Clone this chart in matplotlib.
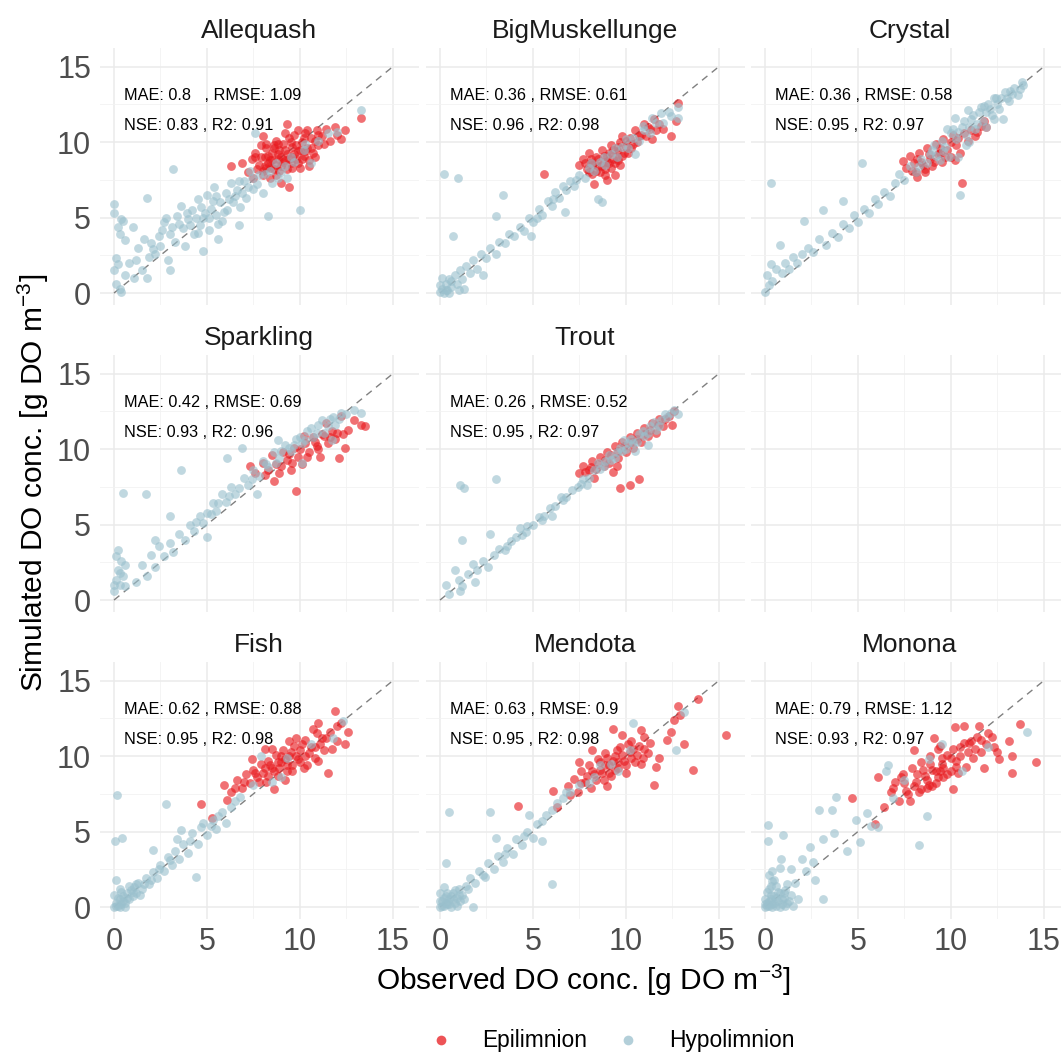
import matplotlib
matplotlib.use("Agg")
import matplotlib.pyplot as plt
from matplotlib.lines import Line2D

plt.rcParams['font.family'] = ['Liberation Sans', 'DejaVu Sans']
plt.rcParams['mathtext.fontset'] = 'custom'
plt.rcParams['mathtext.rm'] = 'Liberation Sans'
plt.rcParams['mathtext.it'] = 'Liberation Sans:italic'

# observed / simulated DO pairs, per lake and layer
ALLEQUASH_EPI = [(6.3, 8.4), (6.9, 8.6), (7.2, 8.0), (7.4, 8.9), (7.6, 9.3), (7.8, 8.5), (7.9, 9.8), (8.0, 8.1),
                 (8.1, 9.0), (8.2, 9.6), (8.3, 8.6), (8.4, 7.6), (8.5, 9.3), (8.6, 8.2), (8.7, 10.1), (8.8, 8.9),
                 (8.9, 9.5), (9.0, 8.4), (9.0, 7.3), (9.1, 9.9), (9.2, 8.8), (9.3, 11.2), (9.3, 9.2), (9.4, 7.0),
                 (9.5, 8.6), (9.6, 9.7), (9.7, 10.5), (9.8, 8.9), (9.9, 9.4), (10.0, 8.3), (10.1, 10.0), (10.2, 9.1),
                 (10.3, 10.6), (10.4, 9.6), (10.5, 8.8), (10.6, 10.3), (10.7, 9.3), (10.9, 10.8), (11.0, 9.8),
                 (11.2, 10.4), (11.6, 10.1), (11.9, 11.0), (12.2, 10.2), (12.4, 10.8), (13.3, 11.6), (8.6, 9.8),
                 (9.4, 10.3), (7.5, 7.6), (8.0, 10.4), (10.8, 9.0), (8.2, 8.3), (8.8, 9.2), (9.6, 9.0), (8.4, 8.8),
                 (7.7, 8.2), (7.9, 9.0), (8.1, 8.4), (8.2, 9.9), (8.3, 9.1), (8.4, 8.3), (8.5, 8.8), (8.6, 9.6),
                 (8.7, 8.5), (8.8, 9.9), (8.9, 8.1), (9.0, 9.0), (9.1, 8.7), (9.2, 9.5), (9.3, 8.2), (9.4, 8.9),
                 (9.5, 10.0), (9.6, 8.3), (9.7, 9.2), (9.8, 9.8), (9.9, 8.6), (10.0, 9.5), (10.1, 8.9), (10.2, 10.3),
                 (10.3, 9.4), (10.4, 10.8), (10.6, 9.6), (10.8, 10.1), (11.0, 10.5), (11.3, 9.9), (7.6, 9.0),
                 (8.0, 7.8), (8.7, 7.8), (9.2, 10.6), (9.9, 10.8), (10.5, 8.4), (11.4, 10.9), (12.0, 10.5)]
ALLEQUASH_HYPO = [(0.0, 5.9), (0.0, 5.3), (0.4, 4.9), (0.1, 2.3), (0.2, 1.9), (0.6, 1.2), (0.1, 0.6), (0.4, 0.1),
                  (0.3, 3.9), (0.5, 4.8), (1.0, 4.4), (1.3, 3.0), (1.5, 1.5), (1.8, 6.3), (1.8, 1.0), (2.2, 2.6),
                  (2.4, 3.8), (2.6, 4.2), (2.8, 5.0), (2.9, 2.2), (3.2, 8.2), (3.3, 3.4), (3.5, 4.6), (3.6, 5.8),
                  (3.8, 3.1), (4.0, 4.9), (4.2, 5.5), (4.3, 3.9), (4.5, 6.2), (4.6, 4.5), (4.8, 5.0), (5.0, 6.5),
                  (5.1, 4.2), (5.2, 5.6), (5.4, 7.0), (5.5, 5.2), (5.7, 6.0), (5.8, 4.8), (6.0, 6.6), (6.1, 5.5),
                  (6.3, 7.3), (6.4, 6.0), (6.6, 6.8), (6.8, 5.7), (7.0, 7.4), (7.1, 6.3), (7.3, 8.1), (7.5, 6.9),
                  (7.6, 10.6), (7.8, 7.8), (8.0, 6.6), (8.3, 5.1), (8.5, 7.3), (8.7, 8.6), (9.0, 8.0), (9.3, 7.6),
                  (9.5, 9.0), (10.0, 5.5), (10.2, 9.5), (10.6, 8.6), (11.0, 10.1), (11.5, 10.6), (13.3, 12.1),
                  (12.0, 10.7), (2.0, 3.3), (1.2, 2.2), (3.0, 1.5), (4.8, 2.8), (5.6, 3.6), (6.7, 4.5),
                  (2.1, 2.9), (2.5, 3.1), (2.7, 4.7), (3.0, 3.9), (3.1, 4.4), (3.4, 5.1), (3.7, 4.3), (3.9, 5.3),
                  (4.1, 4.5), (4.4, 5.0), (4.5, 4.0), (4.7, 5.7), (4.9, 5.3), (5.1, 5.0), (5.3, 6.1), (5.5, 6.4),
                  (5.6, 4.6), (5.9, 5.4), (6.2, 6.2), (6.5, 6.4), (6.7, 7.4), (6.9, 6.6), (7.2, 7.0), (7.4, 7.6),
                  (7.7, 7.2), (8.1, 7.9), (8.4, 8.1), (8.8, 7.6), (9.2, 8.4), (9.7, 8.7), (10.3, 9.9), (0.2, 4.4),
                  (0.6, 3.5), (0.8, 2.0), (1.1, 1.0), (1.6, 3.6), (1.9, 2.4), (0.0, 1.5), (0.3, 0.3)]

BIGMUSK_EPI = [(5.6, 7.9), (7.5, 8.5), (7.7, 8.9), (7.9, 8.2), (8.0, 9.3), (8.1, 8.6), (8.2, 7.9), (8.3, 7.2),
               (8.4, 9.0), (8.5, 8.4), (8.6, 8.0), (8.7, 9.5), (8.8, 8.7), (8.9, 8.2), (9.0, 9.1), (9.1, 8.6),
               (9.2, 9.8), (9.3, 8.9), (9.4, 7.8), (9.5, 9.4), (9.6, 8.8), (9.7, 10.0), (9.9, 9.3), (10.0, 9.7),
               (10.2, 10.3), (10.3, 9.6), (10.5, 10.8), (10.6, 10.0), (10.8, 10.5), (11.0, 11.2), (11.1, 10.4),
               (11.3, 10.9), (11.5, 11.5), (11.6, 10.8), (11.8, 11.2), (12.0, 10.9), (12.4, 10.4), (12.7, 11.4),
               (12.8, 12.6), (9.0, 7.5), (8.1, 8.9), (9.8, 10.4), (8.0, 8.0), (8.2, 8.5), (8.4, 8.1), (8.5, 8.9),
               (8.7, 8.4), (8.8, 9.1), (8.9, 7.8), (9.0, 8.7), (9.1, 9.3), (9.2, 8.3), (9.3, 9.5), (9.4, 8.6),
               (9.5, 9.0), (9.6, 9.7), (9.7, 8.5), (9.8, 9.1), (10.0, 10.1), (10.1, 9.3), (10.4, 9.9),
               (10.7, 10.4), (11.2, 11.0), (11.4, 10.2), (7.8, 8.6)]
BIGMUSK_HYPO = [(0.0, 0.1), (0.1, 0.3), (0.2, 0.0), (0.3, 0.6), (0.4, 0.2), (0.5, 0.9), (0.6, 0.4), (0.8, 1.2),
                (0.9, 0.6), (1.1, 1.5), (1.2, 0.9), (1.4, 1.8), (1.6, 1.3), (1.8, 2.2), (2.0, 1.6), (2.2, 2.6),
                (2.5, 2.3), (2.7, 3.0), (3.0, 2.6), (3.2, 3.4), (3.5, 3.3), (3.7, 3.9), (4.0, 3.8), (4.3, 4.4),
                (4.5, 4.1), (4.8, 5.0), (5.0, 4.7), (5.3, 5.6), (5.5, 5.2), (5.8, 6.1), (6.0, 5.8), (6.2, 6.7),
                (6.4, 6.3), (6.6, 7.1), (6.8, 6.8), (7.0, 7.4), (7.2, 7.1), (7.5, 7.8), (7.8, 7.6), (8.0, 8.3),
                (8.3, 8.1), (8.6, 8.7), (8.9, 8.5), (9.2, 9.2), (9.5, 9.0), (9.8, 9.7), (10.1, 9.6), (10.4, 10.3),
                (10.7, 10.1), (11.0, 10.8), (11.3, 10.6), (11.6, 11.3), (12.0, 11.3), (12.3, 12.0), (12.8, 11.6),
                (12.8, 12.3), (0.2, 7.9), (0.95, 7.6), (3.4, 6.5), (0.7, 3.75), (3.0, 5.1), (8.5, 6.2), (8.7, 6.0),
                (2.3, 1.2), (1.3, 0.3), (4.9, 3.8), (6.7, 5.4), (0.1, 1.0), (0.5, 0.0), (10.5, 9.2),
                (8.1, 8.6), (8.8, 9.0), (9.4, 9.6), (10.0, 10.2), (10.9, 11.1), (11.4, 11.6), (11.9, 11.9),
                (12.4, 11.7), (7.3, 7.5), (6.1, 6.2), (5.2, 5.0), (0.3, 0.2), (0.6, 0.8), (0.0, 0.5), (1.0, 0.2)]

CRYSTAL_EPI = [(7.4, 8.75), (7.6, 8.3), (7.8, 9.1), (8.0, 8.6), (8.1, 8.0), (8.3, 9.3), (8.4, 8.7), (8.6, 8.2),
               (8.7, 9.6), (8.9, 8.9), (9.0, 8.4), (9.2, 9.9), (9.3, 9.2), (9.5, 8.7), (9.6, 10.2), (9.8, 9.5),
               (10.0, 9.0), (10.1, 10.5), (10.3, 9.8), (10.5, 9.3), (10.6, 7.3), (10.7, 10.6), (10.9, 10.1),
               (11.1, 10.8), (11.3, 10.4), (11.6, 11.1), (11.9, 11.0), (8.2, 7.7), (9.4, 9.6), (10.2, 8.8),
               (7.9, 8.1), (8.2, 8.9), (8.5, 8.5), (8.8, 9.2), (9.1, 8.7), (9.4, 9.3), (9.7, 9.0), (10.0, 10.0),
               (10.4, 10.3), (11.4, 10.7), (11.8, 11.4), (8.6, 8.0)]
CRYSTAL_HYPO = [(0.0, 0.1), (0.2, 0.5), (0.1, 1.2), (0.4, 0.8), (0.6, 1.6), (0.3, 1.9), (0.8, 3.2), (0.9, 1.3),
                (1.1, 2.0), (1.3, 1.6), (1.5, 2.4), (1.7, 2.0), (2.1, 4.8), (2.0, 2.6), (2.3, 3.0), (2.6, 2.7),
                (2.9, 3.6), (3.1, 5.5), (3.3, 3.2), (3.6, 4.0), (3.9, 3.7), (4.2, 6.1), (4.2, 4.6), (4.5, 4.3),
                (4.8, 5.2), (5.0, 4.7), (5.2, 8.6), (5.3, 5.6), (5.6, 5.3), (5.9, 6.2), (6.1, 5.9), (6.4, 6.7),
                (6.7, 6.4), (7.0, 7.3), (7.2, 7.9), (7.5, 7.5), (7.8, 8.4), (8.1, 8.0), (8.4, 8.9), (8.7, 8.6),
                (9.0, 9.5), (9.2, 9.1), (9.5, 10.1), (9.7, 9.7), (10.0, 10.6), (10.2, 11.6), (10.3, 10.2),
                (10.5, 6.5), (10.6, 11.0), (10.8, 10.5), (11.1, 11.5), (11.3, 10.9), (11.5, 12.0), (11.7, 11.4),
                (12.0, 12.5), (12.2, 11.8), (12.4, 12.9), (12.6, 12.2), (12.9, 13.3), (13.1, 12.7), (13.4, 13.6),
                (13.6, 13.1), (13.9, 13.8), (11.9, 11.0), (9.8, 10.9), (10.9, 12.1), (12.8, 11.5), (0.3, 7.3),
                (10.4, 9.0), (9.4, 8.8), (11.0, 10.0), (12.3, 12.9), (13.2, 13.4), (11.8, 12.4),
                (9.1, 9.8), (9.6, 9.4), (10.1, 10.9), (10.4, 10.7), (10.7, 11.4), (11.0, 11.0), (11.2, 11.8),
                (11.4, 11.2), (11.6, 12.3), (11.9, 12.0), (12.1, 12.2), (12.5, 12.5), (12.7, 12.9), (13.0, 12.9),
                (13.3, 13.2), (13.7, 13.5), (13.8, 14.0), (12.3, 11.5), (10.8, 9.8), (9.9, 9.0), (8.9, 9.2),
                (8.3, 8.4)]

SPARKLING_EPI = [(7.3, 8.9), (7.6, 8.4), (8.0, 9.1), (8.3, 8.6), (8.5, 9.6), (8.7, 9.0), (8.9, 8.4), (9.1, 9.8),
                 (9.3, 9.3), (9.5, 8.6), (9.7, 10.1), (9.8, 7.2), (9.9, 9.5), (10.1, 9.0), (10.3, 10.4), (10.5, 9.8),
                 (10.7, 10.8), (10.9, 10.2), (11.1, 9.5), (11.3, 10.9), (11.5, 10.4), (11.7, 11.2), (11.9, 10.7),
                 (12.1, 9.4), (12.2, 12.2), (12.4, 10.1), (12.6, 11.3), (12.9, 11.9), (13.3, 11.6), (13.5, 11.5),
                 (10.2, 10.9), (8.6, 7.9), (11.4, 11.7), (9.0, 8.9), (9.4, 9.7), (9.6, 9.1), (10.0, 10.0),
                 (10.4, 9.5), (10.8, 10.5), (11.0, 10.0), (11.2, 11.0), (11.6, 10.8), (12.0, 11.1), (12.3, 11.0),
                 (8.1, 8.3)]
SPARKLING_HYPO = [(0.0, 0.6), (0.1, 1.3), (0.2, 2.0), (0.3, 1.0), (0.4, 2.6), (0.5, 1.6), (0.2, 3.3), (0.6, 2.3),
                  (0.1, 2.9), (0.5, 7.1), (1.2, 1.2), (1.5, 2.3), (1.7, 7.0), (1.8, 1.6), (2.0, 3.0), (2.2, 2.2),
                  (2.4, 3.6), (2.7, 2.9), (3.0, 3.8), (3.2, 3.2), (3.5, 4.4), (3.6, 8.6), (3.8, 4.0), (4.1, 5.0),
                  (4.3, 4.6), (4.6, 5.6), (4.8, 5.1), (5.0, 5.8), (5.3, 6.4), (5.5, 5.9), (5.8, 7.0), (6.0, 6.5),
                  (6.1, 9.4), (6.3, 7.5), (6.5, 7.0), (6.9, 10.1), (7.0, 8.1), (7.2, 7.6), (7.5, 8.6), (7.8, 8.2),
                  (8.0, 9.2), (8.3, 8.8), (8.6, 9.8), (8.9, 9.4), (9.2, 10.3), (9.5, 9.9), (9.8, 10.7), (10.1, 10.4),
                  (10.4, 11.2), (10.7, 10.8), (11.0, 11.6), (11.3, 11.1), (11.6, 12.0), (11.9, 11.6), (12.2, 12.4),
                  (12.9, 12.6), (13.3, 12.4), (10.1, 9.1), (5.0, 4.2), (7.7, 7.0), (3.0, 5.6), (2.2, 4.0),
                  (11.7, 10.6), (8.8, 10.6), (8.2, 9.0), (8.7, 9.1), (9.0, 9.9), (9.4, 10.1), (9.7, 10.3),
                  (10.0, 10.8), (10.3, 10.6), (10.6, 11.4), (10.9, 11.1), (11.2, 11.9), (11.5, 11.5), (11.8, 12.1),
                  (12.1, 12.0), (12.5, 12.3), (7.4, 8.0), (6.7, 7.4), (6.2, 6.9), (5.6, 6.4), (5.2, 5.7),
                  (4.4, 5.2), (0.3, 1.8), (0.0, 1.0), (0.6, 0.9)]

TROUT_EPI = [(7.5, 8.4), (7.7, 8.9), (8.0, 8.6), (8.2, 9.2), (8.4, 8.7), (8.6, 9.5), (8.8, 8.9), (9.0, 9.8),
             (9.1, 9.1), (9.3, 8.5), (9.4, 10.2), (9.6, 9.4), (9.7, 7.4), (9.8, 10.5), (10.0, 9.8), (10.2, 7.6),
             (10.2, 10.8), (10.4, 10.1), (10.6, 11.1), (10.7, 8.0), (10.8, 10.5), (11.0, 11.4), (11.2, 10.9),
             (11.4, 11.7), (11.6, 11.1), (11.8, 12.0), (12.0, 11.5), (12.3, 12.2), (12.6, 12.5), (12.5, 11.6),
             (9.5, 8.9), (8.3, 8.1), (8.1, 8.8), (8.5, 9.0), (8.9, 9.3), (9.2, 9.6), (9.6, 9.9), (9.9, 10.2),
             (10.3, 10.5), (10.6, 10.7), (11.0, 11.0), (11.3, 11.3), (11.7, 11.6), (12.1, 12.0), (7.8, 8.5)]
TROUT_HYPO = [(0.3, 1.0), (0.5, 0.4), (1.1, 0.6), (1.0, 1.3), (1.2, 0.9), (0.8, 2.0), (1.5, 1.7), (1.8, 2.4),
              (1.9, 1.2), (2.0, 2.0), (2.3, 2.6), (2.6, 2.2), (2.7, 4.4), (1.2, 4.0), (2.9, 3.0), (3.2, 3.4),
              (3.5, 3.3), (3.8, 3.9), (4.1, 4.2), (4.4, 4.3), (4.7, 4.9), (5.0, 5.0), (5.3, 5.5), (5.6, 5.6),
              (5.9, 6.1), (6.2, 6.2), (6.5, 6.8), (6.8, 6.8), (7.1, 7.3), (7.4, 7.5), (7.7, 8.0), (8.0, 8.1),
              (8.3, 8.6), (8.6, 8.7), (8.9, 9.2), (9.2, 9.3), (9.5, 9.8), (9.8, 9.9), (10.1, 10.4), (10.4, 10.4),
              (10.7, 11.0), (11.0, 10.9), (11.3, 11.5), (11.6, 11.3), (11.9, 11.9), (12.2, 12.1), (12.6, 12.6),
              (12.8, 12.3), (1.1, 7.6), (1.3, 7.4), (3.0, 8.0), (6.0, 5.6), (7.9, 7.6), (9.9, 10.6), (11.2, 10.3),
              (4.3, 4.8), (8.5, 9.1), (10.5, 9.9), (8.8, 8.9), (9.1, 9.6), (9.4, 9.4), (9.7, 10.1), (10.0, 10.0),
              (10.3, 10.7), (10.6, 10.5), (10.9, 11.2), (11.2, 11.1), (11.5, 11.8), (11.8, 11.5), (12.1, 12.3),
              (12.4, 12.4), (7.6, 7.7), (6.6, 6.6), (5.5, 5.3), (4.6, 4.5), (3.6, 3.6)]

FISH_EPI = [(4.7, 6.8), (5.25, 5.9), (5.9, 8.1), (6.3, 7.6), (6.6, 8.4), (6.9, 7.9), (7.1, 8.8), (7.3, 8.2),
            (7.5, 9.1), (7.7, 8.6), (7.9, 9.5), (8.0, 8.9), (8.2, 8.3), (8.3, 9.7), (8.5, 9.2), (8.7, 10.1),
            (8.8, 8.7), (9.0, 9.6), (9.1, 10.4), (9.3, 9.0), (9.4, 10.0), (9.6, 9.4), (9.7, 10.7), (9.9, 9.8),
            (10.0, 10.4), (10.2, 9.2), (10.3, 11.1), (10.5, 10.2), (10.7, 11.8), (10.8, 10.6), (11.0, 9.7),
            (11.2, 11.2), (11.3, 10.4), (11.5, 8.9), (11.6, 11.6), (11.9, 13.0), (12.0, 11.0), (12.2, 12.2),
            (12.6, 11.6), (12.4, 10.8), (8.6, 7.8), (9.8, 11.2), (7.4, 9.8), (10.9, 11.5), (9.2, 8.4),
            (6.1, 7.1), (8.1, 10.5), (11.0, 12.2), (7.6, 8.9), (7.8, 8.3), (8.1, 9.2), (8.3, 8.7), (8.4, 9.4),
            (8.6, 9.0), (8.8, 9.6), (8.9, 9.2), (9.0, 10.0), (9.2, 9.8), (9.3, 9.4), (9.5, 10.3), (9.6, 9.0),
            (9.8, 10.0), (10.0, 9.6), (10.1, 10.8), (10.3, 10.0), (10.4, 9.4), (10.6, 10.6), (10.8, 9.9),
            (11.1, 10.8), (11.4, 11.2), (11.7, 10.5), (12.0, 12.0), (7.0, 8.3), (6.5, 7.9), (8.5, 10.5),
            (9.4, 11.0)]
FISH_HYPO = [(0.0, 0.0), (0.1, 0.3), (0.2, 0.1), (0.3, 0.5), (0.4, 0.2), (0.5, 0.7), (0.6, 0.3), (0.7, 0.9),
             (0.8, 0.5), (0.9, 1.1), (1.0, 0.7), (1.1, 1.3), (1.2, 0.9), (1.3, 1.6), (1.5, 1.2), (1.7, 1.9),
             (1.9, 1.5), (2.1, 2.3), (2.3, 1.9), (2.5, 2.8), (2.7, 2.4), (2.9, 3.3), (3.1, 2.8), (3.3, 3.7),
             (3.5, 3.2), (3.7, 4.2), (4.0, 3.6), (4.2, 4.9), (4.5, 4.2), (4.7, 5.3), (5.0, 4.8), (5.3, 5.8),
             (5.5, 5.2), (5.8, 6.3), (6.0, 5.6), (6.3, 6.6), (6.5, 7.0), (0.15, 7.45), (0.05, 4.4), (0.45, 4.6),
             (2.8, 6.8), (4.4, 2.0), (0.1, 1.8), (0.3, 1.2), (0.0, 0.8), (7.9, 10.0), (8.5, 8.3), (9.3, 9.9),
             (10.6, 10.8), (11.8, 11.2), (12.3, 12.3), (6.8, 7.3), (7.5, 8.1), (9.0, 8.6), (2.1, 3.8), (3.6, 5.1),
             (0.2, 0.6), (0.4, 1.0), (0.6, 0.0), (0.8, 1.4), (1.0, 1.0), (1.4, 0.8), (0.1, 0.1), (0.3, 0.0),
             (0.5, 0.4), (0.7, 0.6), (1.2, 1.5), (1.6, 1.5), (2.0, 1.8), (2.4, 2.5), (3.0, 3.1), (3.4, 4.5),
             (4.1, 4.4), (4.8, 5.6), (5.2, 5.4), (5.6, 6.0)]

MENDOTA_EPI = [(4.2, 6.7), (6.1, 7.7), (6.3, 6.6), (6.9, 8.0), (7.2, 8.5), (7.4, 7.6), (7.6, 9.0), (7.8, 8.3),
               (8.0, 9.4), (8.1, 7.9), (8.3, 8.8), (8.5, 9.8), (8.6, 9.1), (8.8, 8.4), (8.9, 10.2), (9.1, 9.4),
               (9.2, 8.7), (9.3, 11.8), (9.4, 10.0), (9.6, 9.2), (9.7, 10.6), (9.9, 9.7), (10.0, 8.9), (10.2, 10.3),
               (10.3, 11.0), (10.5, 9.6), (10.7, 10.7), (10.9, 9.9), (11.0, 11.3), (11.2, 10.2), (11.5, 8.1),
               (11.6, 9.3), (12.2, 11.1), (12.6, 12.4), (12.8, 13.3), (13.1, 10.8), (13.6, 9.1), (13.9, 13.8),
               (15.4, 11.4), (8.2, 10.4), (9.8, 11.4), (10.8, 11.7), (7.5, 9.6), (9.0, 8.0), (8.2, 9.0),
               (8.4, 8.4), (8.6, 9.6), (8.7, 8.9), (8.9, 9.4), (9.0, 9.9), (9.1, 8.9), (9.3, 9.7), (9.4, 9.1),
               (9.5, 10.4), (9.6, 9.6), (9.8, 10.1), (10.0, 9.4), (10.1, 10.8), (10.3, 9.9), (10.4, 10.5),
               (10.6, 10.1), (10.8, 9.5), (11.0, 10.5), (11.3, 10.9), (11.8, 9.9), (7.9, 8.7), (7.6, 8.2),
               (7.0, 7.4), (12.4, 11.6), (12.9, 12.7)]
MENDOTA_HYPO = [(0.0, 0.0), (0.1, 0.4), (0.2, 0.1), (0.3, 0.7), (0.4, 0.2), (0.5, 0.5), (0.6, 0.0), (0.7, 0.9),
                (0.8, 0.3), (0.9, 0.6), (1.0, 1.2), (1.1, 0.4), (1.2, 0.8), (1.4, 1.4), (0.0, 0.9), (0.2, 1.3),
                (1.6, 1.9), (1.8, 0.0), (1.9, 1.6), (2.1, 2.4), (2.4, 2.0), (2.6, 2.9), (2.9, 2.5), (3.1, 3.4),
                (3.4, 3.0), (3.6, 3.9), (3.9, 3.5), (4.1, 4.5), (4.4, 4.1), (4.7, 5.0), (5.0, 4.6), (5.2, 5.5),
                (5.5, 5.7), (5.7, 6.1), (6.0, 6.4), (6.3, 6.9), (6.6, 7.2), (7.0, 7.6), (7.5, 8.1), (0.5, 6.3),
                (2.7, 6.3), (6.0, 1.5), (0.3, 2.9), (10.4, 12.2), (12.7, 10.4), (13.1, 12.9), (8.6, 9.4),
                (9.6, 9.0), (10.2, 10.4), (3.0, 4.6), (4.8, 6.1), (5.5, 4.4), (0.1, 0.1), (0.3, 0.3), (0.5, 0.2),
                (0.7, 0.5), (0.9, 0.1), (0.2, 0.6), (0.4, 0.9), (0.6, 0.7), (1.0, 0.8), (1.3, 0.5), (0.8, 1.1),
                (0.0, 0.4), (1.5, 1.2), (2.3, 2.1), (3.5, 3.5), (4.5, 4.7), (6.8, 7.6), (8.0, 8.2), (8.3, 8.6),
                (9.2, 9.5)]

MONONA_EPI = [(4.7, 7.2), (5.9, 5.5), (6.1, 8.6), (6.4, 6.6), (6.8, 7.6), (7.0, 8.3), (7.2, 7.0), (7.4, 8.8),
              (7.6, 7.7), (7.8, 7.0), (7.9, 9.2), (8.1, 8.3), (8.3, 7.6), (8.4, 9.6), (8.6, 8.7), (8.7, 7.9),
              (8.9, 10.0), (9.0, 9.1), (9.2, 8.2), (9.3, 10.5), (9.5, 9.5), (9.6, 8.6), (9.8, 10.1), (10.0, 9.0),
              (10.2, 11.9), (10.3, 9.7), (10.5, 10.6), (10.7, 12.0), (10.8, 9.3), (11.0, 10.9), (11.2, 9.9),
              (11.4, 11.3), (11.6, 10.3), (11.8, 9.2), (12.0, 11.5), (12.3, 10.6), (12.6, 9.8), (13.3, 10.0),
              (13.3, 8.9), (13.7, 12.1), (14.6, 9.6), (9.1, 11.2), (10.1, 7.8), (11.5, 12.0), (8.0, 10.4),
              (8.8, 8.1), (9.4, 9.0), (10.4, 8.9), (7.5, 8.2), (7.7, 7.5), (8.0, 8.0), (8.2, 8.8), (8.4, 7.8),
              (8.5, 9.1), (8.7, 8.4), (8.9, 9.5), (9.0, 8.0), (9.2, 9.0), (9.3, 8.6), (9.5, 9.9), (9.6, 9.2),
              (9.8, 8.8), (10.0, 9.9), (10.1, 10.5), (10.3, 9.3), (10.5, 10.0), (10.7, 10.9), (10.9, 10.3),
              (11.1, 11.0), (11.3, 10.5), (11.6, 11.1), (11.9, 10.8), (12.2, 11.3), (12.5, 10.3), (13.1, 11.0),
              (7.3, 8.6), (6.9, 7.9), (9.4, 10.7)]
MONONA_HYPO = [(0.0, 0.0), (0.1, 0.3), (0.2, 0.1), (0.3, 0.5), (0.4, 0.2), (0.5, 0.7), (0.6, 0.1), (0.7, 0.4),
               (0.8, 0.9), (0.9, 0.2), (1.0, 0.6), (1.1, 1.1), (1.2, 0.3), (1.4, 0.8), (0.1, 1.0), (0.3, 1.4),
               (0.5, 1.8), (0.2, 2.1), (1.6, 1.6), (1.8, 0.5), (0.15, 5.45), (0.15, 4.4), (0.95, 4.8), (0.4, 2.4),
               (0.85, 3.2), (2.0, 3.2), (3.1, 0.5), (8.3, 4.1), (8.7, 6.0), (14.1, 11.6), (3.8, 7.3), (2.9, 6.4),
               (3.6, 6.4), (3.1, 4.5), (3.7, 4.9), (5.1, 4.3), (4.4, 3.7), (6.6, 9.4), (6.5, 9.0), (4.9, 5.8),
               (5.5, 6.2), (5.7, 5.4), (6.1, 5.3), (6.9, 7.2), (2.2, 2.4), (2.6, 3.0), (1.4, 2.5), (2.7, 1.8),
               (7.5, 8.4), (8.8, 9.8), (9.5, 10.8), (10.6, 9.0), (12.0, 10.6), (2.4, 4.0), (0.1, 0.1), (0.2, 0.4),
               (0.4, 0.0), (0.3, 0.8), (0.5, 0.3), (0.6, 0.6), (0.7, 1.0), (0.8, 0.0), (0.9, 0.5), (1.0, 0.9),
               (1.1, 0.1), (1.3, 0.4), (0.0, 0.5), (0.2, 1.2), (0.6, 1.4), (1.2, 1.5), (0.4, 1.7), (0.0, 0.2),
               (0.8, 2.6), (1.5, 0.1)]

LAKES = ['Allequash', 'BigMuskellunge', 'Crystal', 'Sparkling', 'Trout', 'Fish', 'Mendota', 'Monona']
EPI = [ALLEQUASH_EPI, BIGMUSK_EPI, CRYSTAL_EPI, SPARKLING_EPI, TROUT_EPI, FISH_EPI, MENDOTA_EPI, MONONA_EPI]
HYPO = [ALLEQUASH_HYPO, BIGMUSK_HYPO, CRYSTAL_HYPO, SPARKLING_HYPO, TROUT_HYPO, FISH_HYPO, MENDOTA_HYPO,
        MONONA_HYPO]
MAE = ['0.8  ', '0.36', '0.36', '0.42', '0.26', '0.62', '0.63', '0.79']
RMSE = ['1.09', '0.61', '0.58', '0.69', '0.52', '0.88', '0.9', '1.12']
NSE = ['0.83', '0.96', '0.95', '0.93', '0.95', '0.95', '0.95', '0.93']
R2 = ['0.91', '0.98', '0.97', '0.96', '0.97', '0.98', '0.98', '0.97']
# grid slot of each lake (row, col); slot (1, 2) stays empty
SLOTS = [(0, 0), (0, 1), (0, 2), (1, 0), (1, 1), (2, 0), (2, 1), (2, 2)]

RED = '#E8191E'
BLUE = '#9AC0CD'

W, H = 1061, 1052
fig = plt.figure(figsize=(W / 100, H / 100), dpi=100)

col_left = [99.5, 425.5, 750.5]
row_top = [47.8, 354.8, 661.8]
pw, ph = 319, 257
xlim = (-0.78, 16.38)
ylim = (-0.78, 16.25)


def make_panel(r, c):
    ax = fig.add_axes([col_left[c] / W, 1 - (row_top[r] + ph) / H, pw / W, ph / H])
    ax.set_xlim(xlim)
    ax.set_ylim(ylim)
    for s in ax.spines.values():
        s.set_visible(False)
    ax.set_xticks([0, 5, 10, 15])
    ax.set_yticks([0, 5, 10, 15])
    ax.set_xticks([2.5, 7.5, 12.5], minor=True)
    ax.set_yticks([2.5, 7.5, 12.5], minor=True)
    ax.grid(True, which='major', color='#EBEBEB', lw=1.1)
    ax.grid(True, which='minor', color='#F2F2F2', lw=0.6)
    ax.set_axisbelow(True)
    ax.tick_params(which='both', length=0, labelsize=22, labelcolor='#4D4D4D', pad=6)
    if c != 0:
        ax.set_yticklabels([])
    if r != 2:
        ax.set_xticklabels([])
    return ax


for i, lake in enumerate(LAKES):
    r, c = SLOTS[i]
    ax = make_panel(r, c)
    ax.plot([0, 15], [0, 15], color='#808080', lw=1.0, ls=(0, (5, 4)), zorder=1)
    ex, ey = zip(*EPI[i])
    hx, hy = zip(*HYPO[i])
    ax.scatter(ex, ey, s=40, color=RED, alpha=0.62, lw=0, zorder=2)
    ax.scatter(hx, hy, s=40, color=BLUE, alpha=0.62, lw=0, zorder=2)
    ax.text(0.55, 13.1, f'MAE: {MAE[i]} , RMSE: {RMSE[i]}', fontsize=11.7, va='center', ha='left')
    ax.text(0.55, 11.1, f'NSE: {NSE[i]} , R2: {R2[i]}', fontsize=11.7, va='center', ha='left')
    ax.set_title(lake, fontsize=19, color='#1A1A1A', pad=7)

make_panel(1, 2)

fig.text(583 / W, 1 - 990 / H, r'Observed DO conc. [g DO m$^{-3}$]', fontsize=21.5,
         ha='center', va='baseline')
fig.text(33 / W, 1 - 483 / H, r'Simulated DO conc. [g DO m$^{-3}$]', fontsize=21.5,
         ha='center', va='center', rotation=90)

handles = [Line2D([], [], ls='', marker='o', ms=7, color=RED, alpha=0.75, mec='none'),
           Line2D([], [], ls='', marker='o', ms=7, color=BLUE, alpha=0.75, mec='none')]
fig.legend(handles, ['Epilimnion', 'Hypolimnion'], loc='center', bbox_to_anchor=(612 / W, 1 - 1041 / H),
           ncol=2, frameon=False, fontsize=16.4, handlelength=1.0, handletextpad=1.3, columnspacing=1.3)

fig.savefig('out.png', dpi=100)
